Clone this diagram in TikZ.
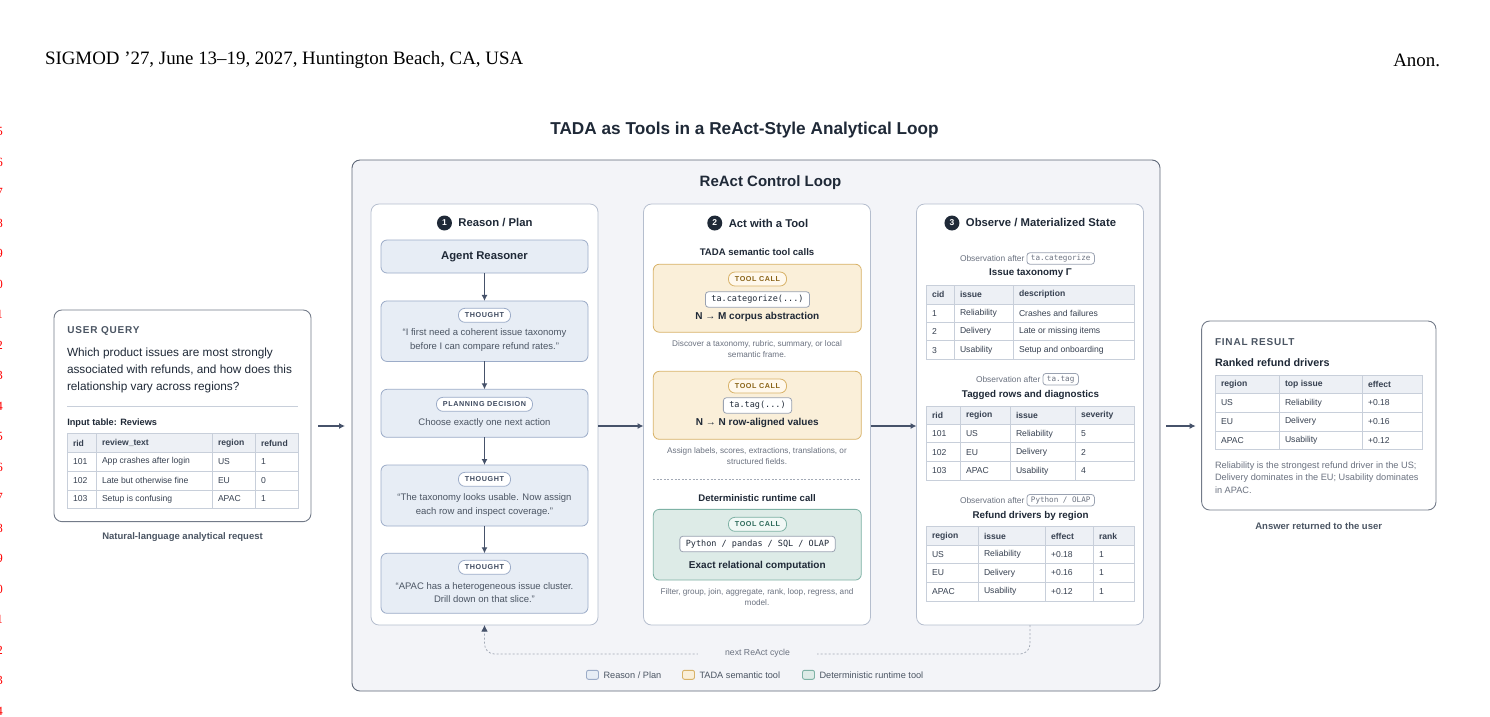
\documentclass[tikz,border=0pt]{standalone}
\usepackage{fontspec}
\setmainfont{Liberation Sans}
\newfontfamily\venuefont{Liberation Serif}
\newfontfamily\codefont{DejaVu Sans Mono}
\newfontfamily\capsfont{Liberation Sans}[LetterSpace=8]
\usetikzlibrary{arrows.meta,positioning}

\definecolor{ink}{HTML}{1F2937}
\definecolor{bodytext}{HTML}{374151}
\definecolor{softtext}{HTML}{4B5563}
\definecolor{mutetext}{HTML}{6B7280}
\definecolor{loopbg}{HTML}{F3F4F8}
\definecolor{outerline}{HTML}{5F6878}
\definecolor{frameline}{HTML}{737B89}
\definecolor{panelline}{HTML}{B5BECE}
\definecolor{reasonbg}{HTML}{E7EDF5}
\definecolor{reasonline}{HTML}{9CACC8}
\definecolor{pilltext}{HTML}{3E4A5F}
\definecolor{sembg}{HTML}{FAEFD9}
\definecolor{sempill}{HTML}{FFF8EC}
\definecolor{semline}{HTML}{D8B268}
\definecolor{semtext}{HTML}{8A6418}
\definecolor{detbg}{HTML}{DDEBE7}
\definecolor{detpill}{HTML}{F1F8F6}
\definecolor{detline}{HTML}{7EB2A5}
\definecolor{dettext}{HTML}{2E6A5B}
\definecolor{tablehead}{HTML}{EDF0F5}
\definecolor{tableline}{HTML}{C8CFDA}
\definecolor{codeline}{HTML}{9AA2B1}
\definecolor{arrowgray}{HTML}{46526A}
\definecolor{dashgray}{HTML}{A3AAB6}
\definecolor{linenum}{HTML}{FF0000}

\newcommand\fs[2]{\fontsize{#1}{#2}\selectfont}

\begin{document}
\begin{tikzpicture}[x=1pt,y=-1pt,
  every node/.style={inner sep=0pt,outer sep=0pt},
  outerbox/.style={draw=outerline,fill=loopbg,rounded corners=8pt,line width=0.9pt},
  framebox/.style={draw=frameline,fill=white,rounded corners=8pt,line width=0.9pt},
  panel/.style={draw=panelline,fill=white,rounded corners=8pt,line width=0.8pt,
    minimum width=227pt,minimum height=421pt},
  stepbox/.style={draw=reasonline,fill=reasonbg,rounded corners=6pt,line width=0.8pt,
    minimum width=207pt},
  sembox/.style={draw=semline,fill=sembg,rounded corners=6pt,line width=0.8pt,
    minimum width=208pt},
  detbox/.style={draw=detline,fill=detbg,rounded corners=6pt,line width=0.8pt,
    minimum width=208pt},
  pill/.style={draw=#1,fill=white,rounded corners=6.5pt,line width=0.8pt,
    minimum height=14pt,inner xsep=6.5pt,text=pilltext,
    font=\capsfont\bfseries\fs{7.2}{8}},
  codebox/.style={draw=codeline,fill=white,rounded corners=3pt,line width=0.8pt,
    minimum height=15.5pt,inner xsep=6pt,text=ink,font=\codefont\fs{8.5}{10}},
  obscode/.style={draw=codeline,fill=white,rounded corners=3pt,line width=0.8pt,
    minimum height=11.5pt,inner xsep=4pt,text=mutetext,font=\codefont\fs{7.6}{9}},
  colhead/.style={text=ink,font=\bfseries\fs{11.3}{13}},
  numdot/.style={circle,fill=ink,text=white,minimum size=15pt,
    font=\bfseries\fs{8.5}{9}},
  thought/.style={text=softtext,align=center,font=\fs{9.5}{13.6}},
  subhead/.style={text=ink,font=\bfseries\fs{9.6}{11}},
  boldline/.style={text=ink,font=\bfseries\fs{10}{12}},
  desc/.style={text=mutetext,align=center,font=\fs{8.2}{11}},
  obs/.style={text=mutetext,font=\fs{8.4}{10}},
  tabtitle/.style={text=ink,font=\bfseries\fs{9.8}{11}},
  cell/.style={anchor=west,text=bodytext,font=\fs{8.6}{10}},
  thead/.style={fill=tablehead},
  tline/.style={draw=tableline,line width=0.8pt},
  capshead/.style={text=softtext,font=\capsfont\bfseries\fs{10}{12}},
  caption/.style={text=softtext,font=\bfseries\fs{9.5}{11}},
  flow/.style={draw=arrowgray,line width=1.3pt,-{Latex[length=6pt,width=6pt]}},
  cycleline/.style={draw=dashgray,line width=0.8pt,dash pattern=on 2pt off 2pt,
    -{Latex[length=6.5pt,width=6.5pt,color=arrowgray]}},
  swatch/.style={rounded corners=2pt,line width=0.9pt,minimum width=12pt,minimum height=9pt},
  legtext/.style={text=softtext,font=\fs{9.2}{11}},
  venue/.style={text=black,font=\venuefont\fs{18.9}{20}},
  linenum/.style={text=linenum,font=\venuefont\fs{12.5}{13}}]

\fill[white] (0,0) rectangle (1490,716);
\useasboundingbox (0,0) rectangle (1490,716);

% page header and line numbers
\node[venue,anchor=west] (venue) at (45,60) {SIGMOD ’27, June 13–19, 2027, Huntington Beach, CA, USA};
\node[venue,anchor=east] (anon) at (1440,60) {Anon.};
\foreach \n [count=\i from 0] in {5,6,7,8,9,0,1,2,3,4,5,6,7,8,9,0,1,2,3,4}
  \node[linenum,anchor=east] (ln\i) at (3,{131.7+\i*30.5}) {\n};

\node[text=ink,font=\bfseries\fs{17.2}{20}] (title) at (744.5,130) {TADA as Tools in a ReAct-Style Analytical Loop};

% react loop container
\node[outerbox,minimum width=808pt,minimum height=531pt] (loop) at (756,425.5) {};
\node[text=ink,font=\bfseries\fs{15}{17}] (looptitle) at (770.5,183) {ReAct Control Loop};

\node[panel] (col1) at (484.5,414.5) {};
\node[panel] (col2) at (757,414.5) {};
\node[panel] (col3) at (1030,414.5) {};

\node[colhead] (h1) at (495.5,223) {Reason / Plan};
\node[numdot,left=6.5pt of h1] (d1) {1};
\node[colhead] (h2) at (768.5,223) {Act with a Tool};
\node[numdot,left=6.5pt of h2] (d2) {2};
\node[colhead] (h3) at (1041,223) {Observe / Materialized State};
\node[numdot,left=6.5pt of h3] (d3) {3};

% 1: reason / plan
\node[stepbox,minimum height=33pt,text=ink,font=\bfseries\fs{11.3}{13}] (agent) at (484.5,256.5) {Agent Reasoner};
\node[stepbox,minimum height=60.5pt] (th1) at (484.5,331.2) {};
\node[pill=reasonline] (p1) at (484.5,315.3) {THOUGHT};
\node[thought] (t1) at (484.5,340) {“I first need a coherent issue taxonomy\\before I can compare refund rates.”};
\node[stepbox,minimum height=48pt] (plan) at (484.5,413.3) {};
\node[pill=reasonline] (p2) at (484.5,404.3) {PLANNING DECISION};
\node[thought] (t2) at (484.5,422.7) {Choose exactly one next action};
\node[stepbox,minimum height=61pt] (th2) at (484.5,495.5) {};
\node[pill=reasonline] (p3) at (484.5,479.3) {THOUGHT};
\node[thought] (t3) at (484.5,504.8) {“The taxonomy looks usable. Now assign\\each row and inspect coverage.”};
\node[stepbox,minimum height=60pt] (th3) at (484.5,583.3) {};
\node[pill=reasonline] (p4) at (484.5,567.3) {THOUGHT};
\node[thought] (t4) at (484.5,592.5) {“APAC has a heterogeneous issue cluster.\\Drill down on that slice.”};

\draw[flow] (agent) -- (th1);
\draw[flow] (th1) -- (plan);
\draw[flow] (plan) -- (th2);
\draw[flow] (th2) -- (th3);

% 2: act with a tool
\node[subhead] (semhead) at (757,251.7) {TADA semantic tool calls};
\node[sembox,minimum height=68pt] (tc1) at (757.3,298.2) {};
\node[pill=semline,fill=sempill,text=semtext] (tp1) at (757.5,279) {TOOL CALL};
\node[codebox] (code1) at (757.5,299.5) {ta.categorize(...)};
\node[boldline] (b1) at (757.3,316.7) {N → M corpus abstraction};
\node[desc] (ds1) at (757,349) {Discover a taxonomy, rubric, summary, or local\\semantic frame.};
\node[sembox,minimum height=68pt] (tc2) at (757.3,405.3) {};
\node[pill=semline,fill=sempill,text=semtext] (tp2) at (757.5,386) {TOOL CALL};
\node[codebox] (code2) at (757.5,405.5) {ta.tag(...)};
\node[boldline] (b2) at (757.3,423.3) {N → N row-aligned values};
\node[desc] (ds2) at (757,455.6) {Assign labels, scores, extractions, translations, or\\structured fields.};
\draw[dashgray,line width=0.7pt,dash pattern=on 2pt off 1.6pt] (653,479) -- (861,479);
\node[subhead] (dethead) at (757,497.7) {Deterministic runtime call};
\node[detbox,minimum height=70.7pt] (rt) at (757.3,544.7) {};
\node[pill=detline,fill=detpill,text=dettext] (tp3) at (757.5,524.3) {TOOL CALL};
\node[codebox] (code3) at (757.5,544) {Python / pandas / SQL / OLAP};
\node[boldline] (b3) at (757.3,565.7) {Exact relational computation};
\node[desc] (ds3) at (757,597) {Filter, group, join, aggregate, rank, loop, regress, and\\model.};

% 3: observe / materialized state
\node[obs,anchor=west] (o1) at (960,258.5) {Observation after};
\node[obscode,right=2.5pt of o1] (oc1) {ta.categorize};
\node[tabtitle] (tt1) at (1030.5,273.5) {Issue taxonomy Γ};
\fill[thead] (926,285) rectangle (1134.3,304);
\draw[tline] (926,285) rectangle (1134.3,359);
\foreach \yy in {304,322.3,340.7} \draw[tline] (926,\yy) -- (1134.3,\yy);
\foreach \xx in {954.3,1013.3} \draw[tline] (\xx,285) -- (\xx,359);
\foreach \a/\b/\c [count=\r from 0] in {\textbf{cid}/\textbf{issue}/\textbf{description},
    1/Reliability/Crashes and failures,2/Delivery/Late or missing items,3/Usability/Setup and onboarding} {
  \node[cell] (ta-\r-1) at (932,{294.6+\r*18.5}) {\a};
  \node[cell] (ta-\r-2) at (960,{294.6+\r*18.5}) {\b};
  \node[cell] (ta-\r-3) at (1019,{294.6+\r*18.5}) {\c};
}

\node[obs,anchor=west] (o2) at (976,379.2) {Observation after};
\node[obscode,right=2.5pt of o2] (oc2) {ta.tag};
\node[tabtitle] (tt2) at (1030.5,394.6) {Tagged rows and diagnostics};
\fill[thead] (926,406) rectangle (1134.3,424.3);
\draw[tline] (926,406) rectangle (1134.3,480);
\foreach \yy in {424.3,442.7,461} \draw[tline] (926,\yy) -- (1134.3,\yy);
\foreach \xx in {960.3,1010.3,1075.3} \draw[tline] (\xx,406) -- (\xx,480);
\foreach \a/\b/\c/\d [count=\r from 0] in {\textbf{rid}/\textbf{region}/\textbf{issue}/\textbf{severity},
    101/US/Reliability/5,102/EU/Delivery/2,103/APAC/Usability/4} {
  \node[cell] (tb-\r-1) at (932,{415.3+\r*18.5}) {\a};
  \node[cell] (tb-\r-2) at (966,{415.3+\r*18.5}) {\b};
  \node[cell] (tb-\r-3) at (1016,{415.3+\r*18.5}) {\c};
  \node[cell] (tb-\r-4) at (1081,{415.3+\r*18.5}) {\d};
}

\node[obs,anchor=west] (o3) at (960,500.2) {Observation after};
\node[obscode,right=2.5pt of o3] (oc3) {Python / OLAP};
\node[tabtitle] (tt3) at (1030.5,515.8) {Refund drivers by region};
\fill[thead] (926,526.7) rectangle (1134.3,545);
\draw[tline] (926,526.7) rectangle (1134.3,601);
\foreach \yy in {545,563.3,582} \draw[tline] (926,\yy) -- (1134.3,\yy);
\foreach \xx in {978.3,1045.3,1093.3} \draw[tline] (\xx,526.7) -- (\xx,601);
\foreach \a/\b/\c/\d [count=\r from 0] in {\textbf{region}/\textbf{issue}/\textbf{effect}/\textbf{rank},
    US/Reliability/+0.18/1,EU/Delivery/+0.16/1,APAC/Usability/+0.12/1} {
  \node[cell] (tc-\r-1) at (932,{536+\r*18.5}) {\a};
  \node[cell] (tc-\r-2) at (984,{536+\r*18.5}) {\b};
  \node[cell] (tc-\r-3) at (1051,{536+\r*18.5}) {\c};
  \node[cell] (tc-\r-4) at (1099,{536+\r*18.5}) {\d};
}

% feedback into the next cycle
\draw[cycleline,rounded corners=10pt] (col3.south) |- (col1.south |- 0,654) -- (col1.south);
\node[fill=loopbg,inner xsep=27pt,inner ysep=3pt,text=mutetext,font=\fs{8.7}{10}] (cyc) at (757.5,653.5) {next ReAct cycle};

% legend
\node[swatch,draw=reasonline,fill=reasonbg] (lg1) at (592.5,674.8) {};
\node[legtext,right=5pt of lg1] (lt1) {Reason / Plan};
\node[swatch,draw=semline,fill=sembg] (lg2) at (688.5,674.8) {};
\node[legtext,right=5pt of lg2] (lt2) {TADA semantic tool};
\node[swatch,draw=detline,fill=detbg] (lg3) at (808.5,674.8) {};
\node[legtext,right=5pt of lg3] (lt3) {Deterministic runtime tool};

% user query
\node[framebox,minimum width=257pt,minimum height=211.7pt] (user) at (182.5,415.8) {};
\node[capshead,anchor=west] (uq) at (67.3,330.7) {USER QUERY};
\node[anchor=west,align=left,text=ink,font=\fs{11.8}{16.7}] (question) at (67,370.5) {Which product issues are most strongly\\associated with refunds, and how does this\\relationship vary across regions?};
\draw[tableline,line width=0.7pt] (67,406) -- (298.3,406);
\node[anchor=west,text=ink,font=\bfseries\fs{9.2}{11}] (intitle) at (67.3,422.7) {Input table: Reviews};
\fill[thead] (67.3,433.3) rectangle (298.3,452.7);
\draw[tline] (67.3,433.3) rectangle (298.3,508.3);
\foreach \yy in {452.7,471.7,490} \draw[tline] (67.3,\yy) -- (298.3,\yy);
\foreach \xx in {96.7,212.3,255.7} \draw[tline] (\xx,433.3) -- (\xx,508.3);
\foreach \a/\b/\c/\d [count=\r from 0] in {\textbf{rid}/\textbf{review\_text}/\textbf{region}/\textbf{refund},
    101/App crashes after login/US/1,102/Late but otherwise fine/EU/0,103/Setup is confusing/APAC/1} {
  \node[cell] (ti-\r-1) at (73,{443+\r*18.6}) {\a};
  \node[cell] (ti-\r-2) at (102,{443+\r*18.6}) {\b};
  \node[cell] (ti-\r-3) at (218,{443+\r*18.6}) {\c};
  \node[cell] (ti-\r-4) at (261,{443+\r*18.6}) {\d};
}
\node[caption] (ucap) at (182.5,537.3) {Natural-language analytical request};

% final result
\node[framebox,minimum width=234.3pt,minimum height=189pt] (final) at (1318.8,415.5) {};
\node[capshead,anchor=west] (fr) at (1215,341.7) {FINAL RESULT};
\node[anchor=west,text=ink,font=\bfseries\fs{10.8}{12}] (frtitle) at (1215,362.3) {Ranked refund drivers};
\fill[thead] (1215,375) rectangle (1422.7,393.3);
\draw[tline] (1215,375) rectangle (1422.7,449.3);
\foreach \yy in {393.3,412.3,431.3} \draw[tline] (1215,\yy) -- (1422.7,\yy);
\foreach \xx in {1279.3,1362.7} \draw[tline] (\xx,375) -- (\xx,449.3);
\foreach \a/\b/\c [count=\r from 0] in {\textbf{region}/\textbf{top issue}/\textbf{effect},
    US/Reliability/+0.18,EU/Delivery/+0.16,APAC/Usability/+0.12} {
  \node[cell] (tf-\r-1) at (1221,{384.3+\r*18.6}) {\a};
  \node[cell] (tf-\r-2) at (1285,{384.3+\r*18.6}) {\b};
  \node[cell] (tf-\r-3) at (1368,{384.3+\r*18.6}) {\c};
}
\node[anchor=west,align=left,text=mutetext,font=\fs{9.2}{12.7}] (summary) at (1215,477.5) {Reliability is the strongest refund driver in the US;\\Delivery dominates in the EU; Usability dominates\\in APAC.};
\node[caption] (fcap) at (1318.7,526) {Answer returned to the user};

% main flow
\draw[flow,shorten <=7pt,shorten >=7pt] (user.east |- 0,426) -- (loop.west |- 0,426);
\draw[flow] (col1.east |- 0,426) -- (col2.west |- 0,426);
\draw[flow] (col2.east |- 0,426) -- (col3.west |- 0,426);
\draw[flow,shorten <=6pt,shorten >=6pt] (loop.east |- 0,426) -- (final.west |- 0,426);
\end{tikzpicture}
\end{document}
